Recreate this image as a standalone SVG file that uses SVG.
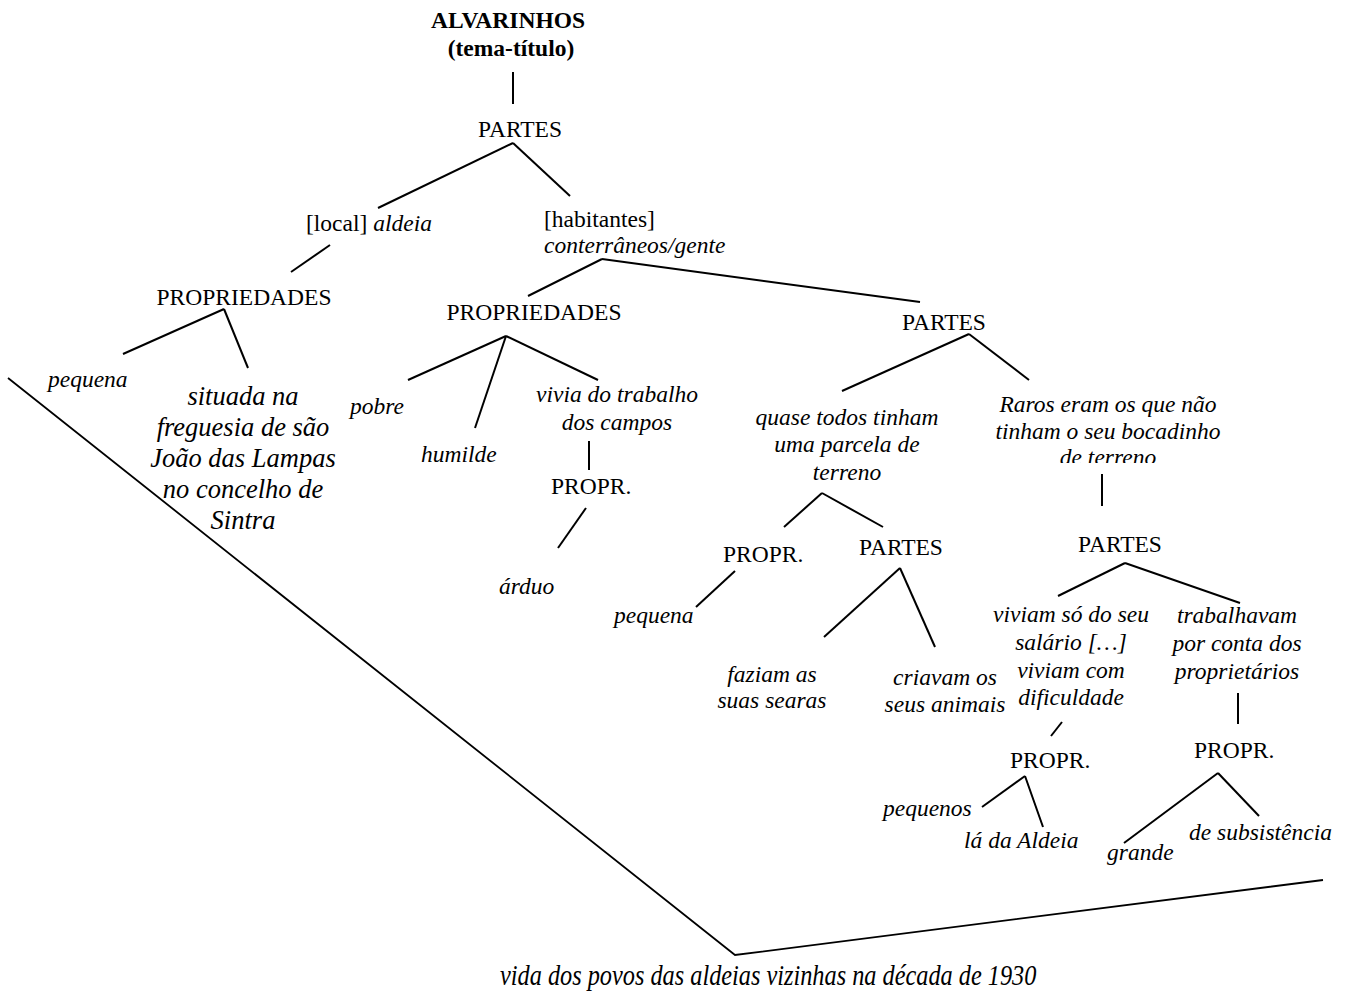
<svg xmlns="http://www.w3.org/2000/svg" width="1353" height="996" viewBox="0 0 1353 996">
<style>
text{font-family:"Liberation Serif","Times New Roman",serif;font-size:23.5px;fill:#000}
.b{font-weight:bold}
.i{font-style:italic}
.m{text-anchor:middle}
.big{font-size:26.5px}
#connectors line,#connectors polyline{stroke:#000;stroke-width:2;fill:none}
</style>
<defs>
<clipPath id="clipRaros"><rect x="900" y="380" width="400" height="83"/></clipPath>
</defs>
<rect width="1353" height="996" fill="#fff"/>
<g id="connectors">
<line x1="513" y1="72" x2="513" y2="104"/>
<line x1="513" y1="143" x2="378" y2="208"/>
<line x1="513" y1="143" x2="570" y2="196"/>
<line x1="330" y1="245" x2="291" y2="272"/>
<line x1="224" y1="309" x2="123" y2="354"/>
<line x1="224" y1="309" x2="248" y2="368"/>
<line x1="602" y1="259" x2="528" y2="296"/>
<line x1="602" y1="259" x2="920" y2="302"/>
<line x1="506" y1="336" x2="408" y2="380"/>
<line x1="506" y1="336" x2="475" y2="428"/>
<line x1="506" y1="336" x2="598" y2="380"/>
<line x1="589" y1="441" x2="589" y2="470"/>
<line x1="586" y1="508" x2="558" y2="548"/>
<line x1="969" y1="334" x2="842" y2="391"/>
<line x1="969" y1="334" x2="1029" y2="380"/>
<line x1="822" y1="493" x2="784" y2="527"/>
<line x1="822" y1="493" x2="883" y2="527"/>
<line x1="735" y1="571" x2="696" y2="607"/>
<line x1="900" y1="568" x2="824" y2="637"/>
<line x1="900" y1="568" x2="935" y2="647"/>
<line x1="1102" y1="474" x2="1102" y2="506"/>
<line x1="1125" y1="563" x2="1058" y2="596"/>
<line x1="1125" y1="563" x2="1240" y2="603"/>
<line x1="1062" y1="722" x2="1051" y2="736"/>
<line x1="1025" y1="776" x2="982" y2="807"/>
<line x1="1025" y1="776" x2="1043" y2="827"/>
<line x1="1238" y1="693" x2="1238" y2="724"/>
<line x1="1218" y1="773" x2="1124" y2="843"/>
<line x1="1218" y1="773" x2="1259" y2="816"/>
<polyline points="8,378 735,955 1323,880" style="stroke-width:1.8"/>
</g>
<g id="title"><text class="b m" x="508" y="28">ALVARINHOS</text><text class="b m" x="511" y="56">(tema-título)</text></g>
<g id="partes1"><text class="m" x="520" y="137">PARTES</text></g>
<g id="local"><text x="306" y="231">[local] <tspan class="i">aldeia</tspan></text></g>
<g id="propriedades1"><text class="m" x="244" y="305">PROPRIEDADES</text></g>
<g id="pequena1"><text class="i" x="48" y="387">pequena</text></g>
<g id="situada"><text class="i m big" x="243"><tspan x="243" y="405">situada na</tspan><tspan x="243" y="436">freguesia de são</tspan><tspan x="243" y="467">João das Lampas</tspan><tspan x="243" y="498">no concelho de</tspan><tspan x="243" y="529">Sintra</tspan></text></g>
<g id="habitantes"><text x="544" y="227">[habitantes]</text><text class="i" x="544" y="253">conterrâneos/gente</text></g>
<g id="propriedades2"><text class="m" x="534" y="320">PROPRIEDADES</text></g>
<g id="pobre"><text class="i" x="350" y="414">pobre</text></g>
<g id="humilde"><text class="i" x="421" y="462">humilde</text></g>
<g id="vivia"><text class="i m"><tspan x="617" y="402">vivia do trabalho</tspan><tspan x="617" y="430">dos campos</tspan></text></g>
<g id="propr1"><text x="551" y="494">PROPR.</text></g>
<g id="arduo"><text class="i" x="499" y="594">árduo</text></g>
<g id="partes2"><text x="902" y="330">PARTES</text></g>
<g id="quase"><text class="i m"><tspan x="847" y="425">quase todos tinham</tspan><tspan x="847" y="452">uma parcela de</tspan><tspan x="847" y="480">terreno</tspan></text></g>
<g id="raros"><text class="i m" clip-path="url(#clipRaros)"><tspan x="1108" y="412">Raros eram os que não</tspan><tspan x="1108" y="439">tinham o seu bocadinho</tspan><tspan x="1108" y="465">de terreno</tspan></text></g>
<g id="propr2"><text x="723" y="562">PROPR.</text></g>
<g id="pequena2"><text class="i" x="614" y="623">pequena</text></g>
<g id="partes3"><text x="859" y="555">PARTES</text></g>
<g id="faziam"><text class="i m"><tspan x="772" y="682">faziam as</tspan><tspan x="772" y="708">suas searas</tspan></text></g>
<g id="criavam"><text class="i m"><tspan x="945" y="685">criavam os</tspan><tspan x="945" y="712">seus animais</tspan></text></g>
<g id="partes4"><text x="1078" y="552">PARTES</text></g>
<g id="viviam"><text class="i m"><tspan x="1071" y="622">viviam só do seu</tspan><tspan x="1071" y="650">salário […]</tspan><tspan x="1071" y="678">viviam com</tspan><tspan x="1071" y="705">dificuldade</tspan></text></g>
<g id="trabalhavam"><text class="i m"><tspan x="1237" y="623">trabalhavam</tspan><tspan x="1237" y="651">por conta dos</tspan><tspan x="1237" y="679">proprietários</tspan></text></g>
<g id="propr3"><text x="1010" y="768">PROPR.</text></g>
<g id="pequenos"><text class="i" x="883" y="816">pequenos</text></g>
<g id="aldeia"><text class="i" x="964" y="848">lá da Aldeia</text></g>
<g id="propr4"><text x="1194" y="758">PROPR.</text></g>
<g id="grande"><text class="i" x="1107" y="860">grande</text></g>
<g id="subsistencia"><text class="i" x="1189" y="840">de subsistência</text></g>
<g id="vida"><text class="i" transform="translate(500,985) scale(1,1.2)" x="0" y="0" style="font-size:24.3px">vida dos povos das aldeias vizinhas na década de 1930</text></g>
</svg>
